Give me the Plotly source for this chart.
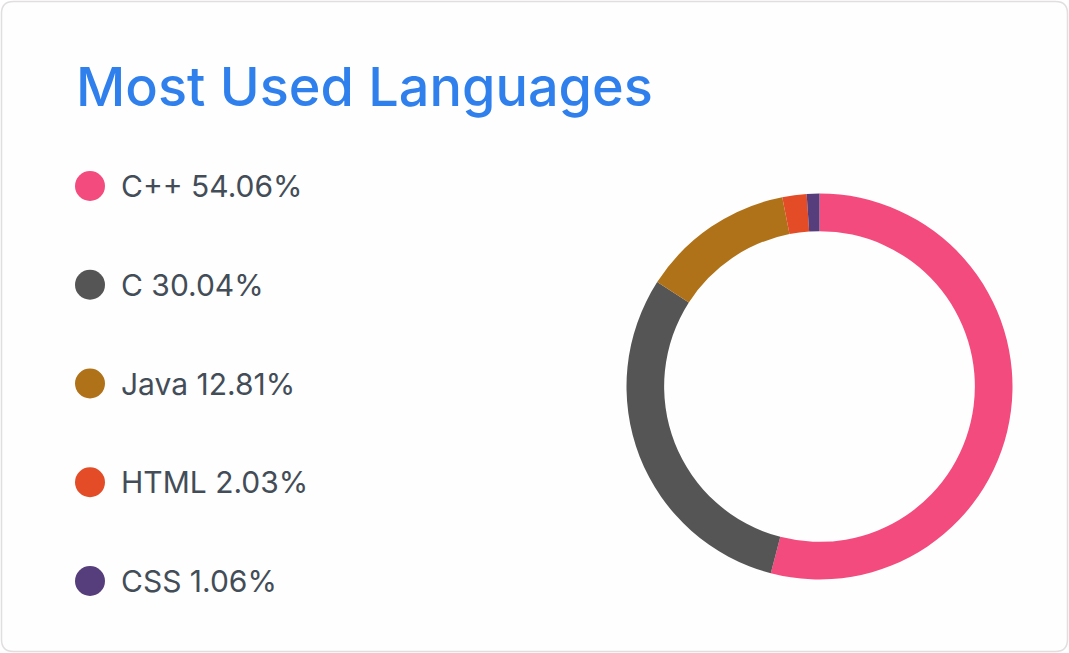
import plotly.graph_objects as go

W, H = 1069, 653

languages = ["C++", "C", "Java", "HTML", "CSS"]
percents = [54.06, 30.04, 12.81, 2.03, 1.06]
colors = ["#f34b7d", "#555555", "#b07219", "#e34c26", "#563d7c"]
title_text = "Most Used Languages"

TITLE_COLOR = "#2f80ed"
TEXT_COLOR = "#434d58"
FONT = "Inter"

fig = go.Figure()

# Donut
cx, cy, R = 819.5, 386.5, 193.0
fig.add_trace(go.Pie(
    labels=languages, values=percents, sort=False, direction="clockwise",
    rotation=0, hole=0.805, textinfo="none", hoverinfo="label+percent",
    marker=dict(colors=colors, line=dict(width=0)),
    domain=dict(x=[(cx - R) / W, (cx + R) / W], y=[1 - (cy + R) / H, 1 - (cy - R) / H]),
    showlegend=False,
))

# Legend rows: map row index to pixel rows
row_top_px, row_bot_px = 186.0, 581.0
n = len(languages)
span = (n - 1) / (row_bot_px - row_top_px) * H
b = row_top_px * span / H
a = b - span
rows = [-i for i in range(n)]

fig.add_trace(go.Scatter(
    x=[0] * n, y=rows, mode="markers",
    marker=dict(size=30, color=colors, line=dict(width=0)),
    xaxis="x", yaxis="y", showlegend=False, hoverinfo="skip",
))

for i, (lang, pct) in enumerate(zip(languages, percents)):
    fig.add_annotation(
        x=119 / W, xref="paper", y=rows[i], yref="y",
        text=f"{lang} {pct:.2f}%", showarrow=False,
        xanchor="left", yanchor="middle",
        font=dict(family=FONT, size=30, color=TEXT_COLOR),
    )

fig.add_annotation(
    x=74 / W, xref="paper", y=1 - 86 / H, yref="paper",
    text=title_text, showarrow=False, xanchor="left", yanchor="middle",
    font=dict(family=FONT, size=54, color=TITLE_COLOR, weight=500),
)

# Card (rounded rectangle)
x0, y0, x1, y1, r = 1.5, 1.5, 1067.5, 651.5, 12
def px(x): return x / W
def py(y): return 1 - y / H
path = (f"M {px(x0 + r)},{py(y0)} L {px(x1 - r)},{py(y0)} "
        f"Q {px(x1)},{py(y0)} {px(x1)},{py(y0 + r)} L {px(x1)},{py(y1 - r)} "
        f"Q {px(x1)},{py(y1)} {px(x1 - r)},{py(y1)} L {px(x0 + r)},{py(y1)} "
        f"Q {px(x0)},{py(y1)} {px(x0)},{py(y1 - r)} L {px(x0)},{py(y0 + r)} "
        f"Q {px(x0)},{py(y0)} {px(x0 + r)},{py(y0)} Z")
fig.add_shape(type="path", path=path, xref="paper", yref="paper",
              fillcolor="#fffefe", line=dict(color="#e0dede", width=1.5), layer="below")

circle_x_px = 90.0
fig.update_layout(
    width=W, height=H, margin=dict(l=0, r=0, t=0, b=0),
    paper_bgcolor="#ffffff", plot_bgcolor="rgba(0,0,0,0)",
    xaxis=dict(domain=[0, 1], range=[-circle_x_px / W * 100, (W - circle_x_px) / W * 100],
               visible=False, fixedrange=True),
    yaxis=dict(domain=[0, 1], range=[a, b], visible=False, fixedrange=True),
    font=dict(family=FONT, color=TEXT_COLOR),
)

fig.write_html("out.html", config={"displayModeBar": False},
               post_script="document.body.style.margin='0';document.body.style.overflow='hidden';")
